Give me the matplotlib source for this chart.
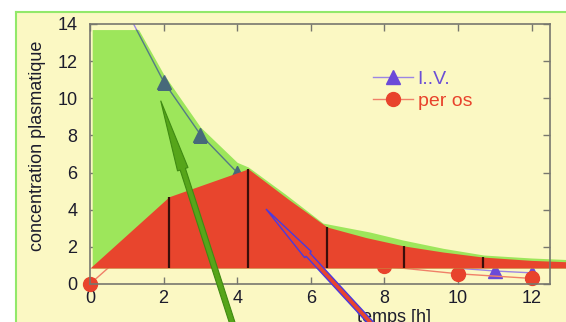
import numpy as np
import matplotlib
matplotlib.use("Agg")
import matplotlib.pyplot as plt
from matplotlib.patches import Rectangle, FancyArrow, Polygon
from matplotlib.lines import Line2D

plt.rcParams['font.family'] = ['Liberation Sans', 'DejaVu Sans']

# IV series (triangles)
iv_t = [1, 2, 3, 4, 6, 8, 10, 11, 12]
iv_c = [14.7, 10.9, 8.05, 6.0, 3.1, 1.6, 0.85, 0.7, 0.6]

# per os series (circles)
po_t = [0, 2, 4, 6, 8, 10, 12]
po_c = [0, 3.5, 4.3, 2.4, 0.95, 0.55, 0.3]

# shaded areas (upper envelope of IV in green, trapezoid area in red)
base = 0.86
green_t = [0.06, 1.32, 2.0, 3.0, 4.0, 4.3, 5.3, 6.33, 7.6, 8.5, 9.6, 10.7, 12.0, 12.93]
green_c = [13.7, 13.7, 11.3, 8.45, 6.55, 6.3, 4.85, 3.28, 2.8, 2.37, 1.92, 1.56, 1.4, 1.32]
red_t = [0.0, 2.15, 4.3, 5.4, 6.44, 7.5, 8.53, 9.6, 10.68, 12.0, 12.93]
red_c = [base, 4.7, 6.2, 4.55, 3.07, 2.5, 2.05, 1.72, 1.45, 1.27, 1.2]
cuts = [2.15, 4.3, 6.44, 8.53, 10.68]

yellow = '#fbf8c3'
green = '#9de65b'
red = '#e8452d'

fig = plt.figure(figsize=(5.66, 3.22), dpi=100)
fig.patch.set_facecolor('white')
fig.add_artist(Rectangle((16 / 566, 0), 1, 1 - 12 / 322, transform=fig.transFigure,
                         fc=yellow, ec='none', zorder=-10))
fig.add_artist(Line2D([16 / 566, 1], [1 - 12 / 322] * 2, transform=fig.transFigure,
                      color='#92e86a', lw=1.5, zorder=-9))
fig.add_artist(Line2D([16 / 566] * 2, [0, 1 - 12 / 322], transform=fig.transFigure,
                      color='#92e86a', lw=1.5, zorder=-9))

ax = fig.add_axes([90 / 566, 38 / 322, 460 / 566, 260 / 322])
ax.set_facecolor(yellow)
ax.set_xlim(0, 12.5)
ax.set_ylim(0, 14)

# data lines
l_iv, = ax.plot(iv_t, iv_c, color='#9b86e4', lw=1, marker='^', ms=10,
                mfc='#6b4ad8', mec='#6b4ad8', zorder=2, label='I..V.')
l_po, = ax.plot(po_t, po_c, color='#f08068', lw=1, marker='o', ms=10,
                mfc='#e8432c', mec='#e8432c', zorder=2.5, clip_on=False, label='per os')

# green envelope
ax.fill_between(green_t, base, green_c, color=green, lw=0, zorder=3, clip_on=False)
# IV line seen through the green area
l_dark, = ax.plot(iv_t, iv_c, color='#557a86', lw=1, marker='^', ms=10,
                  mfc='#47697a', mec='#47697a', zorder=3.5)
gverts = np.column_stack([np.r_[green_t, green_t[::-1]],
                          np.r_[green_c, [base] * len(green_t)]])
clip = Polygon(gverts, closed=True, transform=ax.transData, fc='none', ec='none')
ax.add_patch(clip)
l_dark.set_clip_path(clip)

# red trapezoid area
ax.fill_between(red_t, base, red_c, color=red, lw=0, zorder=4, clip_on=False)
ax.vlines(cuts, base, np.interp(cuts, red_t, red_c), color='#3a0e0a', lw=1.6, zorder=5)

# axes styling
for s in ax.spines.values():
    s.set_color('#77776e')
    s.set_linewidth(1.2)
    s.set_zorder(6)
ax.set_xticks([0, 2, 4, 6, 8, 10, 12])
ax.set_yticks([0, 2, 4, 6, 8, 10, 12, 14])
ax.tick_params(direction='in', length=5, width=1, color='#77776e',
               top=True, right=True, labelsize=13, labelcolor='#1c1c2c')
ax.tick_params(axis='y', pad=9)
ax.tick_params(axis='x', pad=4)

fig.text(38 / 566, 176 / 322, 'concentration plasmatique', rotation=90,
         ha='center', va='center', fontsize=13, color='#1c1c2c')
fig.text(357 / 566, 1 - 309 / 322, 'temps [h]', ha='left', va='top',
         fontsize=13, color='#1c1c2c', zorder=8)

leg = ax.legend(handles=[l_iv, l_po], loc='center left',
                bbox_to_anchor=((373 - 90) / 460, (284 - 90) / 260),
                frameon=False, borderpad=0, borderaxespad=0, fontsize=14,
                handlelength=2.05, handletextpad=0.25, labelspacing=0.22)
for txt, c in zip(leg.get_texts(), ['#6b4fd6', '#e8432c']):
    txt.set_color(c)
leg.set_zorder(7)

# arrows (figure coordinates in inches, 1 px = 0.01 in)
fig.add_artist(FancyArrow(2.336, -0.05, 1.607 - 2.336, 2.213 + 0.05, width=0.055,
                          head_width=0.11, head_length=0.72, length_includes_head=True,
                          fc='#56a51a', ec='#3f8a12', lw=0.8,
                          transform=fig.dpi_scale_trans, zorder=10))
fig.add_artist(FancyArrow(3.746, -0.05, 2.66 - 3.746, 1.13 + 0.05, width=0.05,
                          head_width=0.09, head_length=0.62, length_includes_head=True,
                          fc=red, ec='#4a3ae0', lw=1.0,
                          transform=fig.dpi_scale_trans, zorder=10))

fig.savefig('out.png', dpi=100)
